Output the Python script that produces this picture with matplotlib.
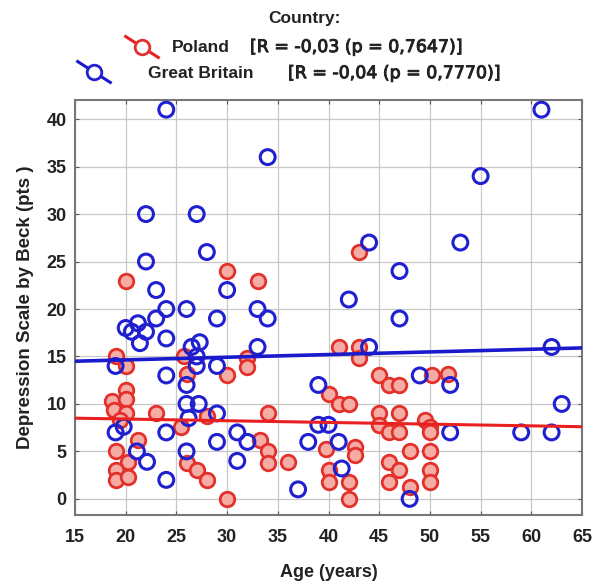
import matplotlib
matplotlib.use("Agg")
import matplotlib.pyplot as plt
from matplotlib.lines import Line2D
import matplotlib.patheffects as pe
import numpy as np

plt.rcParams['font.family'] = ['Liberation Sans', 'DejaVu Sans']

# ---- data ----
poland_age = [20, 30, 33, 43, 19, 20, 18.6, 20, 20, 18.8, 20, 19.4, 23, 21.2, 19, 20.2, 19, 19, 20.2,
              25.7, 26, 25.5, 26, 27, 28, 30, 30, 32, 32, 34, 33.2, 34, 34, 36,
              41, 43, 43, 45, 46, 47, 40, 41, 42, 45, 47, 45, 46, 47, 49.5, 50, 50,
              39.8, 42.6, 42.6, 40, 40, 42, 42, 46, 47, 46, 48, 48, 50, 50, 50, 50.2, 51.8, 28]
poland_bdi = [23, 24, 23, 26, 15, 14, 10.3, 11.5, 10.5, 9.4, 9, 8.3, 9, 6.2, 5, 3.9, 3, 2, 2.3,
              15, 13.2, 7.6, 3.8, 3, 2, 13, 0, 14.8, 13.9, 9, 6.2, 5, 3.8, 3.9,
              16, 16, 14.8, 13, 12, 12, 11, 10, 10, 9, 9, 7.8, 7, 7, 8.3, 7.6, 7,
              5.3, 5.5, 4.6, 3, 1.8, 1.8, 0, 3.9, 3, 1.8, 5, 1.2, 5, 3, 1.8, 13, 13.2, 8.7]

gb_age = [24, 34, 22, 27, 28, 22, 23, 30, 24, 26, 33, 34, 29, 23, 20, 21.2, 20.6, 22, 21.4, 24,
          26.5, 27.3, 27, 27, 29, 19, 24, 26, 26, 27.2, 26.2, 29, 19.8, 19, 24, 21.1, 22.1, 24,
          26, 29, 31, 32, 31, 33, 42, 44, 47, 47, 53, 55, 61, 62, 63, 62, 59, 52, 52, 49, 48,
          44, 39, 39, 40, 38, 41, 41.3, 37]
gb_bdi = [41, 36, 30, 30, 26, 25, 22, 22, 20, 20, 20, 19, 19, 19, 18, 18.5, 17.6, 17.6, 16.4, 16.9,
          16, 16.5, 15, 14, 14, 14, 13, 12, 10, 10, 8.5, 9, 7.6, 7, 7, 5, 3.9, 2,
          5, 6, 7, 6, 4, 16, 21, 27, 24, 19, 27, 34, 41, 16, 10, 7, 7, 7, 12, 13, 0,
          16, 12, 7.8, 7.8, 6, 6, 3.2, 1]

# fitted lines (intercept at age 15, slope per year)
poland_fit = [8.5, -0.018]
gb_fit = [14.5, 0.028]

x_ticks = [15, 20, 25, 30, 35, 40, 45, 50, 55, 60, 65]
y_ticks = [0, 5, 10, 15, 20, 25, 30, 35, 40]
legend_title = "Country:"
legend_names = ["Poland", "Great Britain"]
legend_stats = ["[R = -0,03 (p = 0,7647)]", "[R = -0,04 (p = 0,7770)]"]

red_edge = '#e3302a'
red_face = '#f5aca4'
blue_edge = '#2020d0'
txt = '#222222'

fig = plt.figure(figsize=(6.05, 5.81), dpi=100)
ax = fig.add_axes([0.124, 0.1136, 0.838, 0.714])

ax.scatter(poland_age, poland_bdi, s=110, facecolors=red_face, edgecolors=red_edge, linewidths=2.0, zorder=3)
ax.scatter(gb_age, gb_bdi, s=115, facecolors='none', edgecolors=blue_edge, linewidths=2.2, zorder=4)

xl = np.array([15, 65])
ax.plot(xl, poland_fit[0] + poland_fit[1] * (xl - 15), color='#e82020', lw=2.2, zorder=5)
ax.plot(xl, gb_fit[0] + gb_fit[1] * (xl - 15), color='#1a1acc', lw=2.6, zorder=5)

ax.set_xlim(15, 65)
ax.set_ylim(-1.7, 42)
ax.set_xticks(x_ticks)
ax.set_yticks(y_ticks)
ax.set_xticklabels([str(t) for t in x_ticks], fontsize=13, fontweight='bold', color=txt)
ax.set_yticklabels([str(t) for t in y_ticks], fontsize=13, fontweight='bold', color=txt)
ax.tick_params(direction='in', length=3, color='#555555', top=True, right=True)
ax.tick_params(axis='x', pad=10)
ax.tick_params(axis='y', pad=6)
ax.grid(True, color='#c8c8c8', lw=0.9)
ax.set_axisbelow(True)
for s in ax.spines.values():
    s.set_color('#777777')
    s.set_linewidth(1.5)

ax.set_xlabel("Age (years)", fontsize=13, fontweight='bold', color=txt, labelpad=13)
ax.set_ylabel("Depression Scale by Beck (pts )", fontsize=13.5, fontweight='bold', color=txt, labelpad=9)

# legend (manual, centred rows)
stroke = [pe.withStroke(linewidth=0.7, foreground=txt)]
fig.text(0.503, 0.969, legend_title, ha='center', va='center', fontsize=12.5, fontweight='bold', color=txt)
fig.text(172 / 605, 0.919, legend_names[0], ha='left', va='center', fontsize=12.5, fontweight='bold', color=txt)
fig.text(250 / 605, 0.919, legend_stats[0], ha='left', va='center', fontsize=12.5,
         color=txt, family='DejaVu Sans', path_effects=stroke)
fig.text(148 / 605, 0.874, legend_names[1], ha='left', va='center', fontsize=12.5, fontweight='bold', color=txt)
fig.text(288 / 605, 0.874, legend_stats[1], ha='left', va='center', fontsize=12.5,
         color=txt, family='DejaVu Sans', path_effects=stroke)

def legend_glyph(cx, cy, edge, face, lc):
    dx, dy = 0.027, 0.018
    fig.add_artist(Line2D([cx - dx, cx + dx], [cy + dy, cy - dy], transform=fig.transFigure, color=lc, lw=2.2))
    fig.add_artist(Line2D([cx], [cy], transform=fig.transFigure, marker='o', markersize=10.5,
                          markerfacecolor=face, markeredgecolor=edge, markeredgewidth=2.0, linestyle='none'))

legend_glyph(142 / 605, 1 - 47 / 581, red_edge, 'white', '#e82020')
legend_glyph(94 / 605, 1 - 72 / 581, blue_edge, 'white', '#1a1acc')

fig.savefig("out.png", dpi=100)
